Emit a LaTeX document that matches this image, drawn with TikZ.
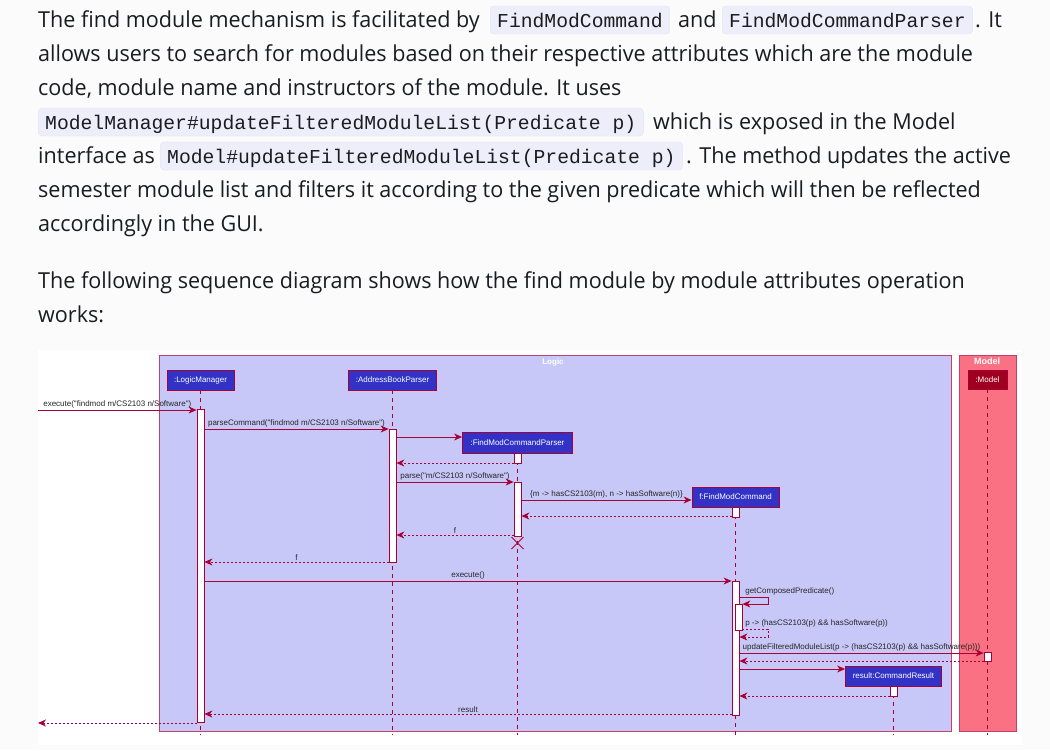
\documentclass[tikz,border=0pt]{standalone}
\usepackage{fontspec}
\setmainfont[FakeStretch=0.98]{Open Sans}
\newfontfamily\codefont{Liberation Mono}
\newfontfamily\umlfont{Liberation Sans}
\usetikzlibrary{arrows.meta,shapes.misc}
\definecolor{pagebg}{HTML}{FBFBFB}
\definecolor{txt}{HTML}{1A1C20}
\definecolor{codebg}{HTML}{EEEEFB}
\definecolor{codebd}{HTML}{E2E2F2}
\definecolor{logicbg}{HTML}{C8C8F8}
\definecolor{modelbg}{HTML}{FA7183}
\definecolor{crim}{HTML}{A80036}
\definecolor{framebd}{HTML}{C2406C}
\definecolor{partbg}{HTML}{3232C6}
\definecolor{modelpart}{HTML}{A00020}
\tikzset{
  body/.style={font=\fontsize{22}{22}\selectfont, text=txt, anchor=base west, inner sep=0pt},
  code/.style={font=\codefont\fontsize{19.7}{20}\selectfont, text=txt, anchor=base west,
    inner xsep=7pt, inner ysep=5pt, text height=16pt, text depth=2pt,
    fill=codebg, draw=codebd, rounded corners=4pt},
  ftitle/.style={font=\umlfont\bfseries\fontsize{8}{9}\selectfont, text=white, inner sep=0pt},
  part/.style={font=\umlfont\fontsize{8}{9}\selectfont, text=white, fill=partbg, draw=crim,
    line width=0.8pt, minimum height=20pt, inner sep=0pt},
  act/.style={fill=white, draw=crim, line width=0.8pt, minimum width=7pt, inner sep=0pt, anchor=north},
  lifeline/.style={draw=crim, line width=0.8pt, dash pattern=on 4pt off 4pt},
  msg/.style={draw=crim, line width=0.8pt, -{Stealth[length=8pt,width=7pt,inset=2.5pt]}},
  ret/.style={msg, dash pattern=on 2pt off 2pt},
  lbl/.style={font=\umlfont\fontsize{8}{9}\selectfont, text=black!85, inner sep=1.5pt},
}
\begin{document}
\begin{tikzpicture}[x=1pt,y=-1pt]
\useasboundingbox (0,0) rectangle (1050,750);
\fill[pagebg] (0,0) rectangle (1050,750);

% ---- text ----
\node[body] (t1a) at (38,27) {The find module mechanism is facilitated by};
\node[code] (c1) at (490,27) {FindModCommand};
\node[body] (t1b) at (678,27) {and};
\node[code] (c2) at (722,27) {FindModCommandParser};
\node[body] (t1c) at (975,27) {. It};
\node[body] (t2) at (38,61) {allows users to search for modules based on their respective attributes which are the module};
\node[body] (t3) at (38,95) {code, module name and instructors of the module. It uses};
\node[code] (c3) at (38,129) {ModelManager\#updateFilteredModuleList(Predicate p)};
\node[body] (t4) at (653,129) {which is exposed in the Model};
\node[body] (t5a) at (38,163) {interface as};
\node[code] (c4) at (160,163) {Model\#updateFilteredModuleList(Predicate p)};
\node[body] (t5b) at (686,163) {. The method updates the active};
\node[body] (t6) at (38,197) {semester module list and filters it according to the given predicate which will then be reflected};
\node[body] (t7) at (38,231) {accordingly in the GUI.};
\node[body] (t8) at (38,288) {The following sequence diagram shows how the find module by module attributes operation};
\node[body] (t9) at (38,322) {works:};

% ---- diagram background and frames ----
\fill[white] (38,350) rectangle (1022,745);
\draw[framebd, fill=logicbg, line width=0.9pt] (159,355) rectangle (951,731);
\node[ftitle] (logicT) at (553,362) {Logic};
\draw[framebd, fill=modelbg, line width=0.9pt] (959,355) rectangle (1016,731);
\node[ftitle, font=\umlfont\bfseries\fontsize{9}{10}\selectfont] (modelT) at (987,361) {Model};

% ---- lifeline ends ----
\coordinate (lmE) at (200.5,735);
\coordinate (abpE) at (392.5,735);
\coordinate (fmcpE) at (517.5,735);
\coordinate (fmcE) at (735.5,735);
\coordinate (mE) at (987.5,735);
\coordinate (resE) at (893.5,735);

% ---- participants ----
\node[part, minimum width=67pt] (lm) at (200.5,380) {:LogicManager};
\node[part, minimum width=88pt] (abp) at (392.5,380) {:AddressBookParser};
\node[part, minimum width=110pt, minimum height=21pt] (fmcp) at (517.5,442.5) {:FindModCommandParser};
\node[part, minimum width=87pt] (fmc) at (735.5,497) {f:FindModCommand};
\node[part, minimum width=39pt, minimum height=19pt, fill=modelpart] (m) at (987.5,379.5) {:Model};
\node[part, minimum width=96pt] (res) at (893.5,676) {result:CommandResult};

% ---- lifelines ----
\draw[lifeline] (lm.south) -- (lmE);
\draw[lifeline] (abp.south) -- (abpE);
\draw[lifeline] (fmcp.south) -- (fmcpE);
\draw[lifeline] (fmc.south) -- (fmcE);
\draw[lifeline] (m.south) -- (mE);
\draw[lifeline] (res.south) -- (resE);

% ---- activations ----
\node[act, minimum height=313pt] (lmA) at (200.5,409) {};
\node[act, minimum height=133pt] (abpA) at (392.5,429) {};
\node[act, minimum height=10pt] (fmcpA1) at (517.5,453) {};
\node[act, minimum height=54pt] (fmcpA2) at (517.5,482) {};
\node[act, minimum height=10pt] (fmcA1) at (735.5,507) {};
\node[act, minimum height=134pt] (fmcA) at (735.5,581) {};
\node[act, minimum height=26pt] (fmcA2) at (738.5,604) {};
\node[act, minimum height=9pt] (mA) at (987.5,652) {};
\node[act, minimum height=10pt] (resA) at (893.5,686) {};

\node[cross out, draw=crim, line width=1pt, minimum size=11pt, inner sep=0pt] (dx) at (517.5,543) {};

% ---- message rows ----
\coordinate (in) at (38,410);
\coordinate (out) at (38,723);
\coordinate (r2) at (0,429);
\coordinate (r3) at (0,437);
\coordinate (r4) at (0,463);
\coordinate (r5) at (0,482);
\coordinate (r6) at (0,500);
\coordinate (r7) at (0,516);
\coordinate (r8) at (0,535);
\coordinate (r9) at (0,562);
\coordinate (r10) at (0,581);
\coordinate (sc1) at (768,597);
\coordinate (sc2) at (768,629);
\coordinate (r12) at (0,637);
\coordinate (r13) at (0,653);
\coordinate (r14) at (0,661);
\coordinate (r15) at (0,669);
\coordinate (r16) at (0,696);
\coordinate (r17) at (0,714);

% ---- messages ----
\draw[msg] (in) -- node[lbl, above] {execute("findmod m/CS2103 n/Software")} (lmA.west |- in);
\draw[msg] (lmA.east |- r2) -- node[lbl, above] {parseCommand("findmod m/CS2103 n/Software")} (abpA.west |- r2);
\draw[msg] (abpA.east |- r3) -- (fmcp.west |- r3);
\draw[ret] (fmcpA1.west |- r4) -- (abpA.east |- r4);
\draw[msg] (abpA.east |- r5) -- node[lbl, above] {parse("m/CS2103 n/Software")} (fmcpA2.west |- r5);
\draw[msg] (fmcpA2.east |- r6) -- node[lbl, above] {\{m -> hasCS2103(m), n -> hasSoftware(n)\}} (fmc.west |- r6);
\draw[ret] (fmcA1.west |- r7) -- (fmcpA2.east |- r7);
\draw[ret] (fmcpA2.west |- r8) -- node[lbl, above] {f} (abpA.east |- r8);
\draw[ret] (abpA.west |- r9) -- node[lbl, above] {f} (lmA.east |- r9);
\draw[msg] (lmA.east |- r10) -- node[lbl, above] {execute()} (fmcA.west |- r10);
\draw[msg] (fmcA.east |- sc1) node[lbl, above right, xshift=4pt] {getComposedPredicate()} -- (sc1) -- (sc1 |- fmcA2.north) -- (fmcA2.north east);
\draw[ret] (fmcA2.east |- sc2) node[lbl, above right, xshift=1pt] {p -> (hasCS2103(p) \&\& hasSoftware(p))} -- (sc2) -- (sc2 |- r12) -- (fmcA.east |- r12);
\draw[msg] (fmcA.east |- r13) -- node[lbl, above] {updateFilteredModuleList(p -> (hasCS2103(p) \&\& hasSoftware(p)))} (mA.west |- r13);
\draw[ret] (mA.west |- r14) -- (fmcA.east |- r14);
\draw[msg] (fmcA.east |- r15) -- (res.west |- r15);
\draw[ret] (resA.west |- r16) -- (fmcA.east |- r16);
\draw[ret] (fmcA.west |- r17) -- node[lbl, above] {result} (lmA.east |- r17);
\draw[ret] (lmA.west |- out) -- (out);
\end{tikzpicture}
\end{document}
